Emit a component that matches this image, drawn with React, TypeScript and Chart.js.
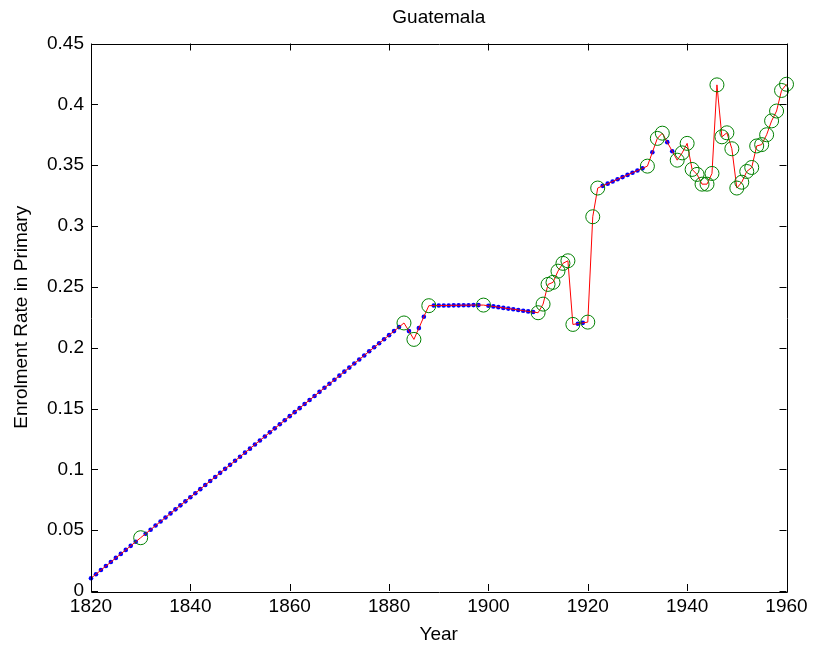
import React, { useEffect, useRef } from "react";
import { Chart, registerables } from "chart.js";

Chart.register(...registerables);

const titleText = "Guatemala";
const xLabel = "Year";
const yLabel = "Enrolment Rate in Primary";

const xTicks = [1820, 1840, 1860, 1880, 1900, 1920, 1940, 1960];
const yTicks = [0, 0.05, 0.1, 0.15, 0.2, 0.25, 0.3, 0.35, 0.4, 0.45];
const yTickLabels = ["0", "0.05", "0.1", "0.15", "0.2", "0.25", "0.3", "0.35", "0.4", "0.45"];

// observed points (green circles)
const obsYears = [
  1830, 1883, 1885, 1888, 1899, 1910, 1911, 1912, 1913, 1914, 1915, 1916, 1917,
  1920, 1921, 1922, 1932, 1934, 1935, 1938, 1939, 1940, 1941, 1942, 1943, 1944,
  1945, 1946, 1947, 1948, 1949, 1950, 1951, 1952, 1953, 1954, 1955, 1956, 1957,
  1958, 1959, 1960,
];
const obsValues = [
  0.0438, 0.2203, 0.2068, 0.2345, 0.235, 0.2287, 0.2358, 0.252, 0.2537, 0.2629,
  0.2693, 0.2714, 0.2191, 0.221, 0.3076, 0.3312, 0.3492, 0.372, 0.3763, 0.3541,
  0.3601, 0.3679, 0.3465, 0.3424, 0.3344, 0.3344, 0.3432, 0.416, 0.3733, 0.3766,
  0.3635, 0.3312, 0.336, 0.3448, 0.3481, 0.3658, 0.3669, 0.375, 0.3864, 0.3945,
  0.4114, 0.4165,
];

// filled-in years (blue dots)
const fillYears = [
  1820, 1821, 1822, 1823, 1824, 1825, 1826, 1827, 1828, 1829,
  1831, 1832, 1833, 1834, 1835, 1836, 1837, 1838, 1839, 1840,
  1841, 1842, 1843, 1844, 1845, 1846, 1847, 1848, 1849, 1850,
  1851, 1852, 1853, 1854, 1855, 1856, 1857, 1858, 1859, 1860,
  1861, 1862, 1863, 1864, 1865, 1866, 1867, 1868, 1869, 1870,
  1871, 1872, 1873, 1874, 1875, 1876, 1877, 1878, 1879, 1880,
  1881, 1882, 1884, 1886, 1887,
  1889, 1890, 1891, 1892, 1893, 1894, 1895, 1896, 1897, 1898,
  1900, 1901, 1902, 1903, 1904, 1905, 1906, 1907, 1908, 1909,
  1918, 1919,
  1923, 1924, 1925, 1926, 1927, 1928, 1929, 1930, 1931,
  1933, 1936, 1937,
];
const fillValues = [
  0.0105, 0.0138, 0.0172, 0.0205, 0.0238, 0.0272, 0.0305, 0.0338, 0.0371, 0.0405,
  0.0471, 0.0504, 0.0538, 0.0571, 0.0604, 0.0638, 0.0671, 0.0704, 0.0737, 0.0771,
  0.0804, 0.0837, 0.0871, 0.0904, 0.0937, 0.0971, 0.1004, 0.1037, 0.107, 0.1104,
  0.1137, 0.117, 0.1204, 0.1237, 0.127, 0.1304, 0.1337, 0.137, 0.1403, 0.1437,
  0.147, 0.1503, 0.1537, 0.157, 0.1603, 0.1637, 0.167, 0.1703, 0.1736, 0.177,
  0.1803, 0.1836, 0.187, 0.1903, 0.1936, 0.197, 0.2003, 0.2036, 0.2069, 0.2103,
  0.2136, 0.2169, 0.2136, 0.2161, 0.2254,
  0.2346, 0.2346, 0.2347, 0.2347, 0.2348, 0.2348, 0.2349, 0.2349, 0.235, 0.235,
  0.2344, 0.2339, 0.2333, 0.2327, 0.2321, 0.2316, 0.231, 0.2304, 0.2298, 0.2293,
  0.2197, 0.2204,
  0.333, 0.3348, 0.3366, 0.3384, 0.3402, 0.342, 0.3438, 0.3456, 0.3474,
  0.3606, 0.3689, 0.3615,
];

const FONT = "'Liberation Sans', Arial, Helvetica, sans-serif";

const framePlugin = {
  id: "matlabFrame",
  afterDraw(chart: any) {
    const { ctx, chartArea } = chart;
    const { left, right, top, bottom } = chartArea;
    const xs = chart.scales.x;
    const ys = chart.scales.y;
    const tl = 7;
    ctx.save();
    ctx.strokeStyle = "#000";
    ctx.lineWidth = 1;
    ctx.beginPath();
    ctx.rect(Math.round(left) + 0.5, Math.round(top) + 0.5, Math.round(right - left), Math.round(bottom - top));
    for (const v of xTicks) {
      const px = Math.round(xs.getPixelForValue(v)) + 0.5;
      ctx.moveTo(px, bottom);
      ctx.lineTo(px, bottom - tl);
      ctx.moveTo(px, top);
      ctx.lineTo(px, top + tl);
    }
    for (const v of yTicks) {
      const py = Math.round(ys.getPixelForValue(v)) + 0.5;
      ctx.moveTo(left, py);
      ctx.lineTo(left + tl, py);
      ctx.moveTo(right, py);
      ctx.lineTo(right - tl, py);
    }
    ctx.stroke();
    // title centred over the axes
    ctx.fillStyle = "#000";
    ctx.font = `19px ${FONT}`;
    ctx.textAlign = "center";
    ctx.textBaseline = "middle";
    ctx.fillText(titleText, (left + right) / 2, 18);
    ctx.restore();
  },
};

export default function App() {
  const ref = useRef<HTMLCanvasElement>(null);
  useEffect(() => {
    if (!ref.current) return;
    const all = [
      ...obsYears.map((x, i) => ({ x, y: obsValues[i] })),
      ...fillYears.map((x, i) => ({ x, y: fillValues[i] })),
    ].sort((a, b) => a.x - b.x);
    const chart = new Chart(ref.current, {
      type: "scatter",
      data: {
        datasets: [
          {
            label: "observed",
            data: obsYears.map((x, i) => ({ x, y: obsValues[i] })),
            showLine: false,
            pointRadius: 7,
            pointBorderWidth: 1,
            pointBorderColor: "#008000",
            pointBackgroundColor: "rgba(0,0,0,0)",
            clip: false as any,
            order: 0,
          },
          {
            label: "line",
            data: all,
            showLine: true,
            borderColor: "#ff0000",
            borderWidth: 1,
            pointRadius: 0,
            tension: 0,
            clip: false as any,
            order: 1,
          },
          {
            label: "filled",
            data: fillYears.map((x, i) => ({ x, y: fillValues[i] })),
            showLine: false,
            pointRadius: 2.3,
            pointBorderWidth: 0,
            pointBackgroundColor: "#0000ff",
            pointBorderColor: "#0000ff",
            clip: false as any,
            order: 2,
          },
        ],
      },
      options: {
        animation: false,
        responsive: false,
        maintainAspectRatio: false,
        events: [],
        layout: { padding: { left: 0, right: 29.5, top: 43.5, bottom: 0 } },
        plugins: {
          legend: { display: false },
          tooltip: { enabled: false },
          title: { display: false },
        },
        scales: {
          x: {
            type: "linear",
            min: 1820,
            max: 1960,
            afterBuildTicks: (s: any) => {
              s.ticks = xTicks.map((v) => ({ value: v }));
            },
            afterFit: (s: any) => {
              s.height = 60;
            },
            grid: { display: false, drawTicks: false },
            border: { display: false },
            ticks: {
              color: "#000",
              padding: 4,
              maxRotation: 0,
              autoSkip: false,
              font: { family: FONT, size: 19 },
              callback: (v: any) => String(v),
            },
            title: {
              display: true,
              text: xLabel,
              color: "#000",
              font: { family: FONT, size: 19 },
              padding: { top: 0, bottom: 5 },
            },
          },
          y: {
            type: "linear",
            min: 0,
            max: 0.45,
            afterBuildTicks: (s: any) => {
              s.ticks = yTicks.map((v) => ({ value: v }));
            },
            afterFit: (s: any) => {
              s.width = 91;
            },
            grid: { display: false, drawTicks: false },
            border: { display: false },
            ticks: {
              color: "#000",
              padding: 7,
              autoSkip: false,
              font: { family: FONT, size: 19 },
              callback: (v: any) => {
                const i = yTicks.findIndex((t) => Math.abs(t - v) < 1e-9);
                return i >= 0 ? yTickLabels[i] : "";
              },
            },
            title: {
              display: true,
              text: yLabel,
              color: "#000",
              font: { family: FONT, size: 19 },
              padding: { top: 10, bottom: 0 },
            },
          },
        },
      },
      plugins: [framePlugin],
    });
    return () => chart.destroy();
  }, []);
  return (
    <div style={{ position: "absolute", left: 0, top: 0, width: 816, height: 651, background: "#fff" }}>
      <canvas ref={ref} width={816} height={651} style={{ width: 816, height: 651, display: "block" }} />
    </div>
  );
}
